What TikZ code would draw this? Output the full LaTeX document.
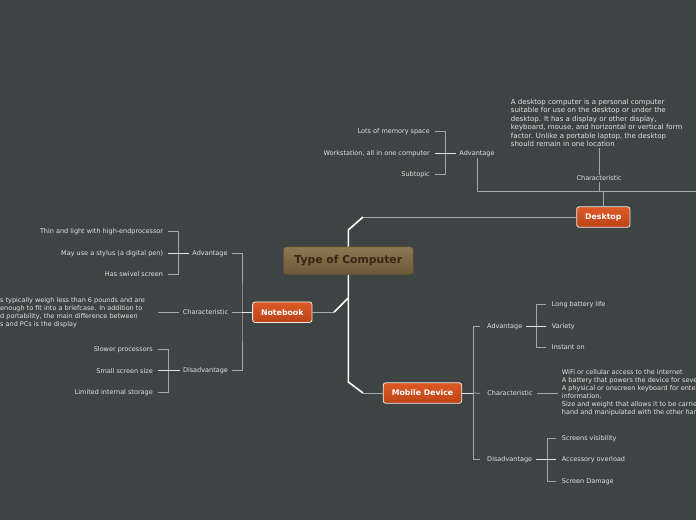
\documentclass[tikz,border=0pt]{standalone}
\usepackage{fontspec}
\setmainfont{DejaVu Sans}
\usepackage{tikz}
\usetikzlibrary{calc}
\definecolor{bgc}{HTML}{3E4444}
\definecolor{linec}{HTML}{A4A7A7}
\definecolor{hubc}{HTML}{E4E6E6}
\definecolor{txtc}{HTML}{E2E2E2}
\definecolor{orgtop}{HTML}{DE5A26}
\definecolor{orgbot}{HTML}{BC4317}
\definecolor{rtop}{HTML}{8C7852}
\definecolor{rbot}{HTML}{6A583A}
\definecolor{rtxt}{HTML}{3A2412}
\tikzset{
  link/.style={linec,line width=0.8pt},
  hub/.style={hubc,line width=1pt},
  trunk/.style={white,line width=1.6pt},
  root/.style={draw=rbot!80!black,rounded corners=3pt,top color=rtop,bottom color=rbot,text=rtxt,font=\fontsize{10.8}{12}\selectfont\bfseries,minimum width=130pt,minimum height=28pt},
  topic/.style={draw=white!85!gray,line width=0.8pt,rounded corners=2.5pt,top color=orgtop,bottom color=orgbot,text=white,font=\fontsize{7.8}{9}\selectfont\bfseries,inner xsep=8.5pt,minimum height=20.5pt},
  lbl/.style={text=txtc,font=\fontsize{6.5}{8}\selectfont,inner sep=1pt},
  desc/.style={lbl,align=left}
}
\begin{document}
\begin{tikzpicture}[x=1pt,y=-1pt]
\fill[bgc] (0,0) rectangle (696,520);
\useasboundingbox (0,0) rectangle (696,520);
\clip (0,0) rectangle (696,520);
% main topics
\node[root] (root) at (348.3,260.8) {Type of Computer};
\node[topic] (desk) at (603.3,217) {Desktop};
\node[topic] (note) at (282.3,312.2) {Notebook};
\node[topic] (mob) at (422.5,393) {Mobile Device};
\coordinate (kd1) at (348.3,230);
\coordinate (kd2) at (363,217);
\coordinate (kn1) at (348.3,298);
\coordinate (kn2) at (334,312.2);
\coordinate (km1) at (348.3,382);
\coordinate (km2) at (363,393);
\draw[trunk] (root.north) -- (kd1) -- (kd2);
\draw[link] (kd2) -- (desk.west);
\draw[trunk] (root.south) -- (km1) -- (km2);
\draw[link] (km2) -- (mob.west);
\draw[trunk] (kn1) -- (kn2);
\draw[link] (kn2) -- (note.east);
% desktop
\node[lbl] (dadv) at (477,153.3) {Advantage};
\node[lbl] (dchar) at (599.2,178.3) {Characteristic};
\node[desc,anchor=west,font=\fontsize{7}{8.5}\selectfont] (ddesc) at (509.7,123) {A desktop computer is a personal computer\\suitable for use on the desktop or under the\\desktop. It has a display or other display,\\keyboard, mouse, and horizontal or vertical form\\factor. Unlike a portable laptop, the desktop\\should remain in one location};
\node[lbl,anchor=east] (dadv1) at (431,131.7) {Lots of memory space};
\node[lbl,anchor=east] (dadv2) at (431,153.3) {Workstation, all in one computer};
\node[lbl,anchor=east] (dadv3) at (431,174.7) {Subtopic};
\coordinate (dbar) at (603.3,191.7);
\coordinate (dend) at (696,191.7);
\draw[link] (desk.north) -- (dbar);
\draw[link] (dadv.south) |- (dend);
\draw[link] (dchar.south) -- (dchar.south |- dbar);
\draw[link] (dchar.north) -- (dchar.north |- ddesc.south);
\draw[link] ([xshift=4pt]dadv1.east) -| ([xshift=14pt]dadv3.east) -- ([xshift=4pt]dadv3.east);
\draw[hub] ([xshift=4pt]dadv2.east) -- ([xshift=-2pt]dadv.west);
% notebook
\node[lbl] (nadv) at (210,253.3) {Advantage};
\node[lbl] (nchar) at (205.5,312.2) {Characteristic};
\node[lbl] (ndis) at (205.5,370.7) {Disadvantage};
\coordinate (nbar) at (242,312.2);
\draw[link] ([xshift=3pt]nadv.east) -| (nbar) |- ([xshift=3pt]ndis.east);
\draw[link] ([xshift=3pt]nchar.east) -- (nbar);
\draw[hub] (nbar) -- (note.west);
\node[lbl,anchor=east] (nadv1) at (164.3,231.7) {Thin and light with high-endprocessor};
\node[lbl,anchor=east] (nadv2) at (164.3,253.3) {May use a stylus (a digital pen)};
\node[lbl,anchor=east] (nadv3) at (164.3,274.3) {Has swivel screen};
\draw[link] ([xshift=4pt]nadv1.east) -| ([xshift=14pt]nadv3.east) -- ([xshift=4pt]nadv3.east);
\draw[hub] ([xshift=4pt]nadv2.east) -- ([xshift=-2pt]nadv.west);
\node[desc,anchor=west,font=\fontsize{6.5}{7.9}\selectfont] (ndesc) at (-1,312.5) {s typically weigh less than 6 pounds and are\\enough to fit into a briefcase. In addition to\\d portability, the main difference between\\s and PCs is the display};
\draw[link] ([xshift=-3pt]nchar.west) -- ([xshift=-24pt]nchar.west);
\node[lbl,anchor=east] (ndis1) at (154,349.3) {Slower processors};
\node[lbl,anchor=east] (ndis2) at (154,370.7) {Small screen size};
\node[lbl,anchor=east] (ndis3) at (154,392.7) {Limited internal storage};
\draw[link] ([xshift=4pt]ndis1.east) -| ([xshift=14.3pt]ndis3.east) -- ([xshift=4pt]ndis3.east);
\draw[hub] ([xshift=4pt]ndis2.east) -- ([xshift=-2pt]ndis.west);
% mobile device
\node[lbl] (madv) at (504.7,326.3) {Advantage};
\node[lbl] (mchar) at (510,393.3) {Characteristic};
\node[lbl] (mdis) at (509.7,459.7) {Disadvantage};
\coordinate (mbar) at (473.3,393);
\draw[link] ([xshift=-6pt]madv.west) -| (mbar) |- ([xshift=-6pt]mdis.west);
\draw[link] ([xshift=-6pt]mchar.west) -- (mbar);
\draw[hub] (mob.east) -- (mbar);
\node[lbl,anchor=west] (madv1) at (550.7,304.3) {Long battery life};
\node[lbl,anchor=west] (madv2) at (550.7,326.3) {Variety};
\node[lbl,anchor=west] (madv3) at (550.7,347.3) {Instant on};
\draw[link] ([xshift=-4.5pt]madv1.west) -| ([xshift=-14pt]madv3.west) -- ([xshift=-4.5pt]madv3.west);
\draw[hub] ([xshift=3pt]madv.east) -- ([xshift=-4.5pt]madv2.west);
\node[desc,anchor=west,font=\fontsize{6.5}{8.1}\selectfont] (mdesc) at (560.7,392.5) {WiFi or cellular access to the internet\\A battery that powers the device for several hours\\A physical or onscreen keyboard for entering\\information.\\Size and weight that allows it to be carried in one\\hand and manipulated with the other hand};
\coordinate (mdj) at (mchar.east -| mdesc.west);
\draw[link] ([xshift=3pt]mchar.east) -- ([xshift=-3pt]mdj);
\node[lbl,anchor=west] (mdis1) at (560.7,438.3) {Screens visibility};
\node[lbl,anchor=west] (mdis2) at (560.7,459.7) {Accessory overload};
\node[lbl,anchor=west] (mdis3) at (560.7,481.3) {Screen Damage};
\draw[link] ([xshift=-4.7pt]mdis1.west) -| ([xshift=-13pt]mdis3.west) -- ([xshift=-4.7pt]mdis3.west);
\draw[hub] ([xshift=3pt]mdis.east) -- ([xshift=-4.7pt]mdis2.west);
\end{tikzpicture}
\end{document}
